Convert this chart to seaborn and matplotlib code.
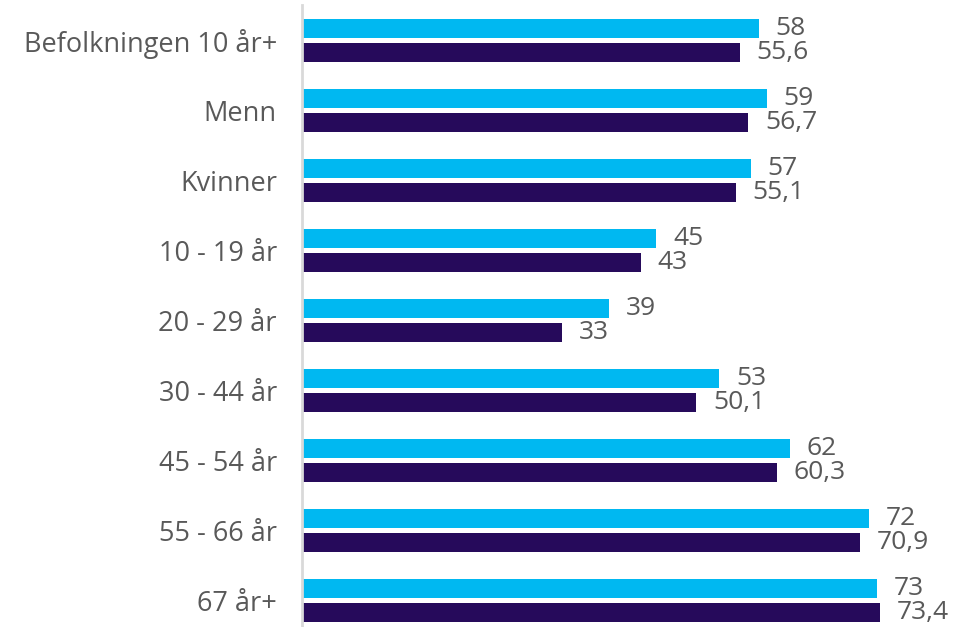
import matplotlib
matplotlib.use("Agg")
import matplotlib.pyplot as plt
import seaborn as sns
import pandas as pd

categories = ["Befolkningen 10 år+", "Menn", "Kvinner", "10 - 19 år", "20 - 29 år",
              "30 - 44 år", "45 - 54 år", "55 - 66 år", "67 år+"]
series_names = ["Serie 1", "Serie 2"]
values_1 = [58, 59, 57, 45, 39, 53, 62, 72, 73]
values_2 = [55.6, 56.7, 55.1, 43, 33, 50.1, 60.3, 70.9, 73.4]
colors = ["#00b8f1", "#260a5b"]

df = pd.DataFrame({
    "kategori": categories * 2,
    "serie": [series_names[0]] * len(categories) + [series_names[1]] * len(categories),
    "verdi": values_1 + values_2,
})

sns.set_theme(style="white")
plt.rcParams["font.family"] = ["Open Sans", "DejaVu Sans"]

fig = plt.figure(figsize=(9.61, 6.27), dpi=100)
ax = fig.add_axes([302 / 961, 0, 659 / 961, 622 / 627])

sns.barplot(data=df, y="kategori", x="verdi", hue="serie", orient="h",
            palette=colors, saturation=1, width=0.686, gap=0.21, linewidth=0,
            legend=False, ax=ax, order=categories, hue_order=series_names)

def fmt(v):
    return f"{v:g}".replace(".", ",")

for cont, vals in zip(ax.containers, [values_1, values_2]):
    ax.bar_label(cont, labels=[fmt(v) for v in vals], padding=12,
                 fontsize=19, color="#595959")

ax.set_xlim(0, 83.7)
ax.set_ylim(8.38, -0.507)
ax.set_xlabel("")
ax.set_ylabel("")
ax.set_xticks([])
ax.tick_params(axis="y", length=0, pad=18, labelsize=19.5, labelcolor="#595959")
for s in ["top", "right", "bottom"]:
    ax.spines[s].set_visible(False)
ax.spines["left"].set_color("#d9d9d9")
ax.spines["left"].set_linewidth(2)

fig.savefig("out.png", dpi=100)
